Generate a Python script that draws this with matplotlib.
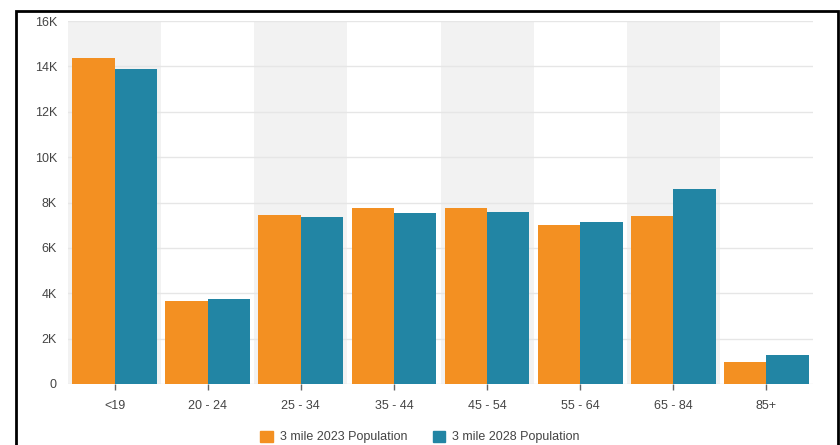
import matplotlib
matplotlib.use("Agg")
import matplotlib.pyplot as plt
import numpy as np
from matplotlib.patches import Rectangle, Patch
from matplotlib.ticker import FuncFormatter

categories = ["<19", "20 - 24", "25 - 34", "35 - 44", "45 - 54", "55 - 64", "65 - 84", "85+"]
pop_2023 = [14380, 3660, 7470, 7740, 7750, 7000, 7390, 960]
pop_2028 = [13900, 3730, 7370, 7520, 7590, 7140, 8580, 1260]
series_names = ["3 mile 2023 Population", "3 mile 2028 Population"]
y_ticks = [0, 2000, 4000, 6000, 8000, 10000, 12000, 14000, 16000]

orange = "#f39022"
teal = "#2285a4"
band = "#f2f2f2"
text_col = "#444444"

plt.rcParams['font.family'] = ['Liberation Sans', 'DejaVu Sans']

fig = plt.figure(figsize=(8.4, 4.45), dpi=100)
W, H = 840, 445
ax = fig.add_axes([68 / W, 1 - 384 / H, (813 - 68) / W, (384 - 21) / H])

n = len(categories)
x = np.arange(n)
bw = 0.455

for i in range(0, n, 2):
    ax.axvspan(i - 0.5, i + 0.5, color=band, zorder=0, lw=0)

ax.bar(x - bw / 2, pop_2023, width=bw, color=orange, zorder=3, label=series_names[0])
ax.bar(x + bw / 2, pop_2028, width=bw, color=teal, zorder=3, label=series_names[1])

ax.set_xlim(-0.5, n - 0.5)
ax.set_ylim(0, 16000)
ax.set_yticks(y_ticks)
ax.yaxis.set_major_formatter(FuncFormatter(lambda v, p: "0" if v == 0 else f"{int(v/1000)}K"))
ax.set_xticks(x)
ax.set_xticklabels(categories)
ax.grid(axis="y", color="#e6e6e6", lw=1, zorder=1)
ax.set_axisbelow(True)
for s in ax.spines.values():
    s.set_visible(False)
ax.tick_params(axis="y", length=0, pad=8, labelsize=9, labelcolor=text_col)
ax.tick_params(axis="x", length=4.5, width=1, color="#666666", pad=7, labelsize=9, labelcolor=text_col)
ax.set_facecolor("white")

ax.legend(handles=[Patch(color=orange, label=series_names[0]), Patch(color=teal, label=series_names[1])],
          loc="center", bbox_to_anchor=(0.5, 1 - 437 / H), bbox_transform=fig.transFigure,
          ncol=2, frameon=False, fontsize=9, handlelength=1.0, handleheight=1.0,
          handletextpad=0.6, columnspacing=2.0, labelcolor=text_col)

# outer black frame
fig.patches.append(Rectangle((16 / W, -0.05), (837.5 - 16) / W, 1.05 - 10.5 / H,
                             transform=fig.transFigure, fill=False, edgecolor="black", lw=2, zorder=10))

fig.savefig("out.png", dpi=100, facecolor="white")
